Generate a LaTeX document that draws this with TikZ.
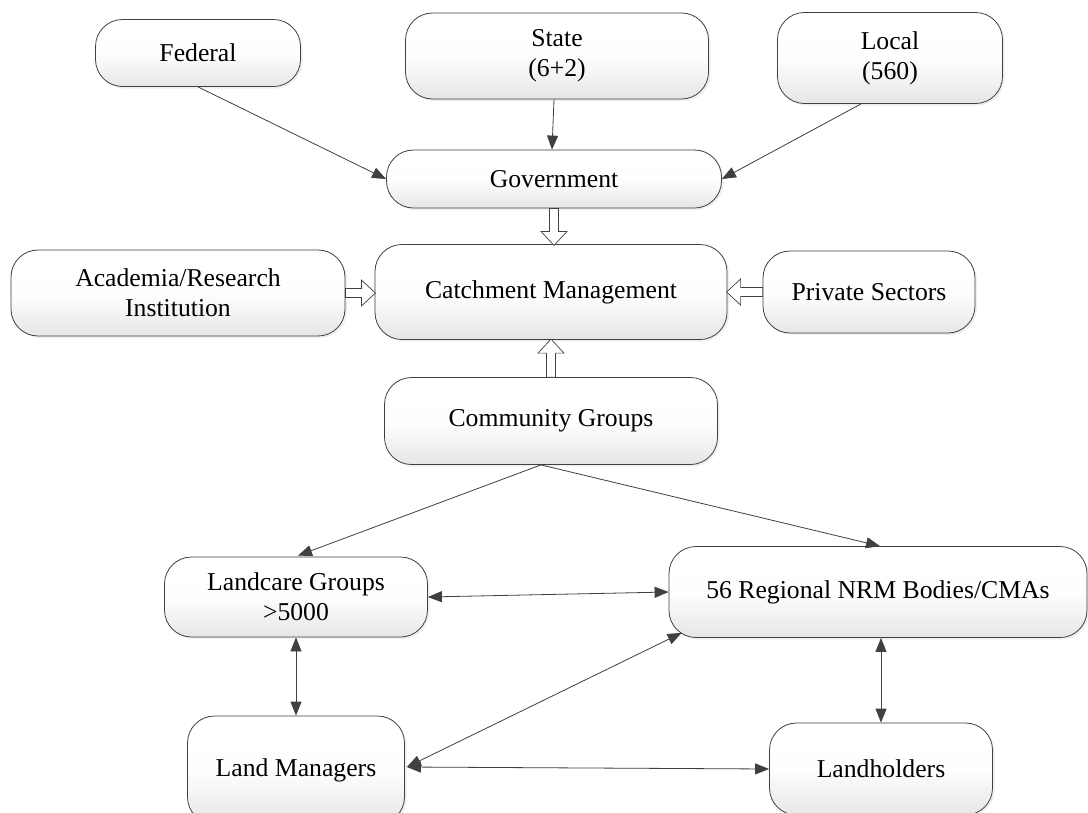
\documentclass[tikz,border=0pt]{standalone}
\usepackage{fontspec}
\setmainfont{Liberation Serif}
\usetikzlibrary{arrows.meta,calc,shadows}

\definecolor{edge}{HTML}{404040}
\definecolor{boxbottom}{HTML}{E6E6E6}

\tikzset{
  box/.style={rectangle, rounded corners=27pt, draw=edge, line width=0.8pt,
    top color=white, bottom color=boxbottom, middle color=white!97!boxbottom,
    drop shadow={opacity=0.12, shadow xshift=2pt, shadow yshift=-2pt},
    align=center, inner sep=2pt,
    font=\fontsize{25.7}{30}\selectfont},
  link/.style={draw=edge, line width=0.8pt,
    {Triangle[length=14pt,width=11pt,fill=edge]}-{Triangle[length=14pt,width=11pt,fill=edge]}},
  oneway/.style={draw=edge, line width=0.8pt, -{Triangle[length=14pt,width=11pt,fill=edge]}},
  pics/blockarrow/.style={code={
    \draw[edge, line width=0.7pt, fill=white]
      (0,-4.5) -- (#1-14,-4.5) -- (#1-14,-13) -- (#1,0) -- (#1-14,13)
      -- (#1-14,4.5) -- (0,4.5) -- cycle;}}
}

\begin{document}
\begin{tikzpicture}[x=1pt,y=-1pt]
\useasboundingbox (0,0) rectangle (1088,812);
\fill[white] (0,0) rectangle (1088,812);
\begin{scope}
\clip (0,0) rectangle (1088,812);

% government tiers
\node[box, minimum width=205pt, minimum height=67pt] (fed)   at (198,53)  {Federal};
\node[box, minimum width=303pt, minimum height=86pt] (state) at (557,56)  {State\\(6+2)};
\node[box, minimum width=225pt, minimum height=91pt] (loc)   at (890,58)  {Local\\(560)};
\node[box, minimum width=335pt, minimum height=58pt] (gov)   at (554,179) {Government};

% central row
\node[box, minimum width=352pt, minimum height=95pt] (catch) at (551,292) {Catchment Management};
\node[box, minimum width=334pt, minimum height=86pt] (acad)  at (178,293) {Academia/Research\\Institution};
\node[box, minimum width=212pt, minimum height=82pt] (priv)  at (869,292) {Private Sectors};
\node[box, minimum width=333pt, minimum height=87pt] (comm)  at (551,421) {Community Groups};

% community level
\node[box, minimum width=263pt, minimum height=80pt]  (landcare) at (296,597) {Landcare Groups\\>5000};
\node[box, minimum width=418pt, minimum height=91pt]  (nrm)      at (878,592) {56 Regional NRM Bodies/CMAs};
\node[box, minimum width=217pt, minimum height=108pt] (lm)       at (296,770) {Land Managers};
\node[box, minimum width=223pt, minimum height=92pt]  (lh)       at (881,769) {Landholders};

% inputs to government
\draw[oneway] (fed.south) -- (gov.west);
\draw[oneway] ($(state.south)+(-3,0)$) -- ($(gov.north)+(-2,0)$);
\draw[oneway] ($(loc.south)+(-29,0)$) -- (gov.east);

% block arrows into catchment management
\pic at (gov.south)  [rotate=-90] {blockarrow=37};
\pic at (acad.east)  {blockarrow=30};
\pic at (priv.west)  [rotate=180] {blockarrow=36};
\pic at (comm.north) [rotate=90]  {blockarrow=38};

% community groups branches
\coordinate (cs) at ($(comm.south)+(-10,0)$);
\draw[oneway] (cs) -- ($(landcare.north)+(2,-1)$);
\draw[oneway] (cs) -- ($(nrm.north)+(2,0)$);

% two-way links
\draw[link] (landcare.east) -- (nrm.west);
\draw[link] (landcare.south) -- (lm.north);
\draw[link] (lh.north |- nrm.south) -- (lh.north);
\draw[link] ($(lm.east)+(2,-3)$) -- ($(nrm.south west)+(13,-5)$);
\draw[link] ($(lm.east)+(2,-3)$) -- (lh.west);
\end{scope}
\end{tikzpicture}
\end{document}
